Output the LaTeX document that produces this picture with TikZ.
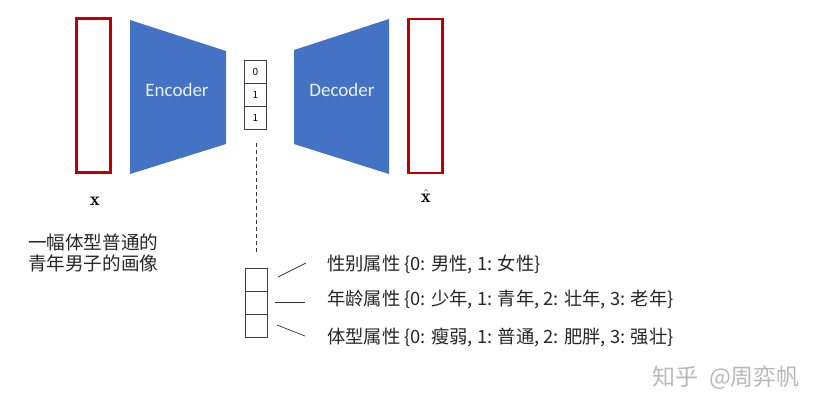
\documentclass[tikz,border=0pt]{standalone}
\usepackage{fontspec}
\setsansfont{Carlito}
\newfontfamily\cjk{Noto Sans CJK SC}
\definecolor{encblue}{HTML}{4472C4}
\definecolor{imgred}{HTML}{C00000}
\begin{document}
\begin{tikzpicture}[x=1pt,y=-1pt,
  imgbox/.style={draw=imgred,line width=2.8pt,inner sep=0pt,minimum width=34pt,minimum height=154pt},
  cell/.style={draw=black!75,line width=0.7pt,inner sep=0pt,minimum width=22pt,minimum height=23pt,font=\cjk\fontsize{10}{12}\selectfont},
  blocktext/.style={text=white!90!encblue,font=\sffamily\fontsize{19}{22}\selectfont},
  attr/.style={anchor=west,inner sep=0pt,font=\cjk\fontsize{18.3}{21}\selectfont,text=black!85},
  veclabel/.style={inner sep=0pt,font=\fontsize{19}{22}\selectfont},
  thin/.style={draw=black!80,line width=0.7pt}]
\useasboundingbox (0,0) rectangle (815,405);
% input and output images
\node[imgbox] (xin) at (93.5,95.5) {};
\node[imgbox] (xout) at (425.5,96) {};
\node[veclabel] (xl) at (95,201) {$\mathbf{x}$};
\node[veclabel,anchor=south] (xhl) at (426,203) {$\hat{\mathbf{x}}$};
% encoder / decoder
\fill[encblue] (130,20) -- (226,51) -- (226,144) -- (130,174) -- cycle;
\node[blocktext] (enc) at (177,90) {Encoder};
\fill[encblue] (294,50) -- (389,19) -- (389,174) -- (294,144) -- cycle;
\node[blocktext] (dec) at (342,90) {Decoder};
% latent code
\node[cell] (v1) at (255.5,71.5) {0};
\node[cell] (v2) at (255.5,94.5) {1};
\node[cell] (v3) at (255.5,117.5) {1};
% attribute vector
\node[cell] (a1) at (256,279.5) {};
\node[cell] (a2) at (256,302.5) {};
\node[cell] (a3) at (256,325.5) {};
\coordinate (dtop) at (256,143);
\coordinate (dbot) at (256,253);
\draw[thin,dash pattern=on 4pt off 3pt] (dtop) -- (dbot);
% caption
\node[anchor=west,align=left,inner sep=0pt,font=\cjk\fontsize{18.6}{21}\selectfont,text=black!85] (cap) at (28,252.5) {一幅体型普通的\\青年男子的画像};
% attributes
\node[attr] (t1) at (327,264) {性别属性 \{0: 男性, 1: 女性\}};
\node[attr] (t2) at (327,300) {年龄属性 \{0: 少年, 1: 青年, 2: 壮年, 3: 老年\}};
\node[attr] (t3) at (327,337) {体型属性 \{0: 瘦弱, 1: 普通, 2: 肥胖, 3: 强壮\}};
\coordinate (l1a) at (278,277); \coordinate (l1b) at (306,263);
\coordinate (l2a) at (275,302); \coordinate (l2b) at (305,302);
\coordinate (l3a) at (277,325); \coordinate (l3b) at (305,336);
\draw[thin] (l1a) -- (l1b);
\draw[thin] (l2a) -- (l2b);
\draw[thin] (l3a) -- (l3b);
% watermark
\node[anchor=west,inner sep=0pt,font=\cjk\fontsize{23}{26}\selectfont,text=black!28] (wm) at (652,378) {知乎\hspace{11pt}@周弈帆};
\end{tikzpicture}
\end{document}
